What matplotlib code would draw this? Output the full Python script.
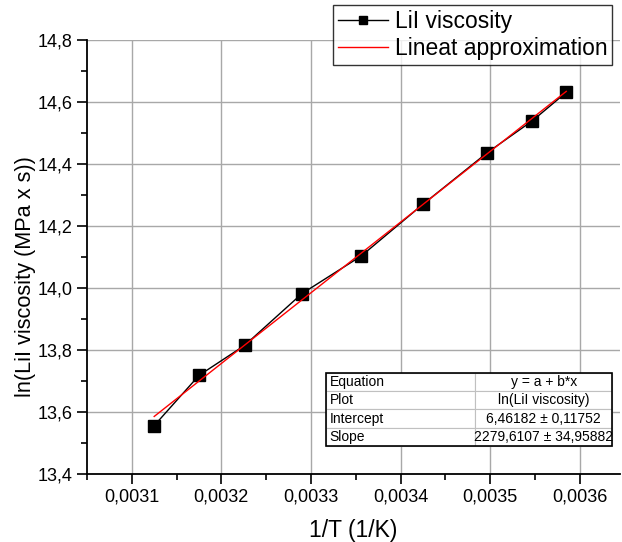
import matplotlib.pyplot as plt
import numpy as np
from matplotlib.ticker import MultipleLocator, FuncFormatter

plt.rcParams["font.family"] = ["Liberation Sans", "DejaVu Sans"]

# data
inv_t = [0.003125, 0.003175, 0.003226, 0.003290, 0.003356,
         0.003425, 0.003497, 0.003547, 0.003585]
ln_visc = [13.556, 13.718, 13.815, 13.982, 14.103,
           14.270, 14.437, 14.539, 14.631]
fit_a = 6.46182
fit_b = 2279.6107
table_rows = [["Equation", "y = a + b*x"],
              ["Plot", "ln(LiI viscosity)"],
              ["Intercept", "6,46182 \u00b1 0,11752"],
              ["Slope", "2279,6107 \u00b1 34,95882"]]


def comma(v, _pos, nd):
    return f"{v:.{nd}f}".replace(".", ",")


fig = plt.figure(figsize=(6.22, 5.42), dpi=100)
ax = fig.add_axes([87 / 622, 1 - 474 / 542, 533 / 622, 434 / 542])

x_arr = np.array(inv_t)
ax.plot(x_arr, ln_visc, "-", color="black", lw=1.0, marker="s", ms=8,
        mfc="black", mec="black", label="LiI viscosity", zorder=3)
x_fit = np.array([x_arr.min(), x_arr.max()])
ax.plot(x_fit, fit_a + fit_b * x_fit, "-", color="red", lw=1.0,
        label="Lineat approximation", zorder=4)

ax.set_xlim(0.00305, 0.003645)
ax.set_ylim(13.4, 14.8)
ax.xaxis.set_major_locator(MultipleLocator(0.0001))
ax.xaxis.set_minor_locator(MultipleLocator(0.00005))
ax.yaxis.set_major_locator(MultipleLocator(0.2))
ax.yaxis.set_minor_locator(MultipleLocator(0.1))
ax.xaxis.set_major_formatter(FuncFormatter(lambda v, p: comma(v, p, 4)))
ax.yaxis.set_major_formatter(FuncFormatter(lambda v, p: comma(v, p, 1)))
ax.tick_params(which="major", direction="out", length=7, width=1.2,
               labelsize=13)
ax.tick_params(which="minor", direction="out", length=4, width=1.2)
for side in ("top", "right"):
    ax.spines[side].set_visible(False)
for side in ("left", "bottom"):
    ax.spines[side].set_linewidth(1.3)
ax.grid(which="major", color="#a8a8a8", lw=1.0)
ax.set_axisbelow(True)

ax.set_xlabel("1/T (1/K)", fontsize=16.5)
ax.set_ylabel("ln(LiI viscosity (MPa x s))", fontsize=15.7)
ax.xaxis.set_label_coords(0.5, -(530 - 474) / 434, transform=ax.transAxes)
ax.yaxis.set_label_coords(-(87 - 26) / 533, (474 - 277) / 434,
                          transform=ax.transAxes)
ax.xaxis.label.set_va("center")
ax.yaxis.label.set_va("center")

leg = fig.legend(loc="upper right", bbox_to_anchor=(612 / 622, 1 - 5 / 542),
                 fontsize=16.5, frameon=True, fancybox=False,
                 handlelength=2.2, borderpad=0.2, labelspacing=0.2,
                 handletextpad=0.3, borderaxespad=0, markerscale=0.75)
leg.get_frame().set_edgecolor("black")
leg.get_frame().set_linewidth(1.0)

tab = ax.table(cellText=table_rows, cellLoc="left",
               bbox=[0.448, 0.0645, 0.537, 0.169], colWidths=[0.523, 0.477])
tab.auto_set_font_size(False)
tab.set_fontsize(10)
for (r, c), cell in tab.get_celld().items():
    cell.set_edgecolor("#c0c0c0")
    cell.set_linewidth(0.8)
    cell.PAD = 0.025
    if c == 1:
        cell.get_text().set_ha("center")
        cell._loc = "center"
tab.set_zorder(5)
ax.add_patch(plt.Rectangle((0.448, 0.0645), 0.537, 0.169,
                           transform=ax.transAxes, fill=False,
                           edgecolor="black", lw=1.2, zorder=6))

fig.canvas.draw()
ax.yaxis.get_gridlines()[-1].set_visible(False)
fig.savefig("out.png", dpi=100)
